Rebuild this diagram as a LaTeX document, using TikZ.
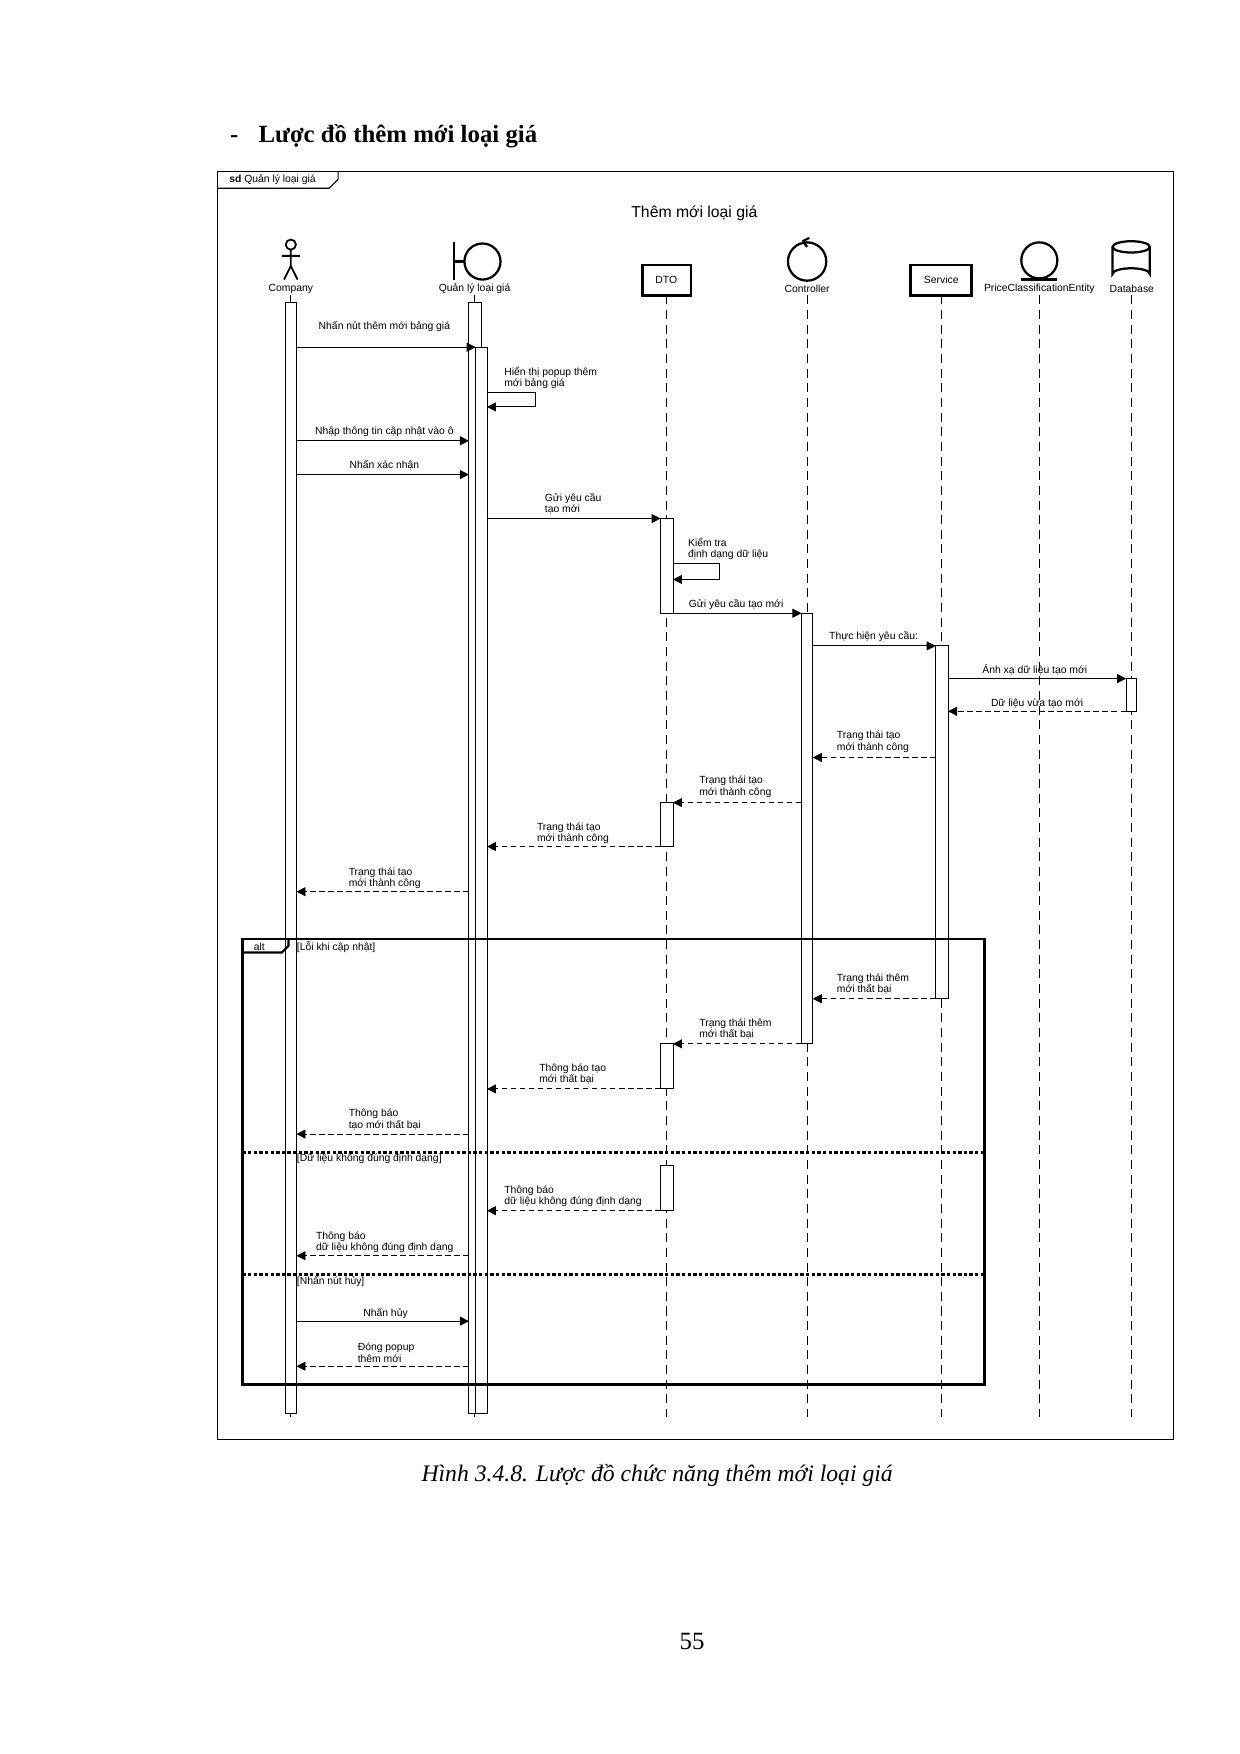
\documentclass[tikz,border=0pt]{standalone}
\usepackage{fontspec}
\setmainfont{Liberation Serif}
\newfontfamily\lsans{Liberation Sans}
\usetikzlibrary{arrows.meta}
\begin{document}
\begin{tikzpicture}[x=0.5pt,y=-0.5pt,
  lab/.style={font=\lsans\fontsize{4.6}{5}\selectfont,align=left,inner sep=0pt},
  msg/.style={-{Triangle[length=4pt,width=4pt]},line width=0.4pt},
  ret/.style={msg,dashed,dash pattern=on 2.5pt off 1.5pt},
  life/.style={dashed,dash pattern=on 4pt off 2.5pt,line width=0.4pt},
  act/.style={draw,fill=white,line width=0.4pt}]
\useasboundingbox (0,0) rectangle (1100,1556);
% heading
\node[anchor=west,font=\bfseries\fontsize{11}{13}\selectfont] (hd) at (197,121) {-\hspace{9pt}Lược đồ thêm mới loại giá};
% frame
\draw[line width=0.5pt] (193,152) rectangle (1041,1277);
\draw[line width=0.5pt] (193,167) -- (292,167) -- (300,159) -- (300,152);
\node[lab,anchor=west] (sd) at (203,159.5) {\textbf{sd} Quản lý loại giá};
\node[font=\lsans\fontsize{7}{8}\selectfont] (title) at (616,189) {Thêm mới loại giá};
% lifelines
\foreach \x in {591,716,835,922,1004} \draw[life] (\x,262) -- (\x,1257);
\draw[life] (258,262) -- (258,1257);
\draw[life] (421,262) -- (421,1257);
% actor
\draw[line width=0.8pt] (258,217) circle (4.5);
\draw[line width=0.8pt] (258,221.5) -- (258,236) (250,227) -- (266,227) (258,236) -- (252,248) (258,236) -- (264,248);
\node[lab] (cmp) at (258,256) {Company};
% boundary
\draw[line width=1pt] (403,215) -- (403,248) (403,232) -- (412,232);
\draw[line width=1pt] (428,232) circle (16);
\node[lab] (qly) at (421,256) {Quản lý loại giá};
% DTO
\draw[line width=1.2pt] (570,235) rectangle (613,262);
\node[lab] (dto) at (591,248.5) {DTO};
% controller
\draw[line width=1pt] (716,232) circle (17);
\draw[line width=1pt] (712,214) -- (718,211) (712,214) -- (716,219);
\node[lab] (ctl) at (716,256) {Controller};
% service
\draw[line width=1.2pt] (808,235) rectangle (862,262);
\node[lab] (svc) at (835,248.5) {Service};
% entity
\draw[line width=1pt] (922,231) circle (16);
\draw[line width=1pt] (906,248) -- (938,248);
\node[lab] (ent) at (922,256) {PriceClassificationEntity};
% database
\draw[line width=1pt] (987,219) -- (987,243) arc[start angle=180,end angle=360,x radius=16.5,y radius=5] -- (1020,219);
\draw[line width=1pt] (1003.5,219) ellipse[x radius=16.5,y radius=5];
\node[lab] (db) at (1004,256) {Database};
% activations
\draw[act] (253,268) rectangle (263,1254);
\draw[act] (416,268) rectangle (427,1254);
\draw[act] (422,308) rectangle (432,1254);
\draw[act] (586,460) rectangle (597,544);
\draw[act] (586,712) rectangle (597,751);
\draw[act] (586,926) rectangle (597,966);
\draw[act] (586,1034) rectangle (597,1074);
\draw[act] (711,544) rectangle (721,926);
\draw[act] (830,573) rectangle (841,886);
\draw[act] (999,602) rectangle (1008,631);
% messages
\draw[msg] (263,308) -- (422,308);
\node[lab] (m1) at (341,290) {Nhấn nút thêm mới bảng giá};
\draw[msg] (432,348) -- (475,348) -- (475,361) -- (432,361);
\node[lab,anchor=west] (m2) at (447,335) {Hiển thị popup thêm\\mới bảng giá};
\draw[msg] (263,391) -- (416,391);
\node[lab] (m3) at (341,383) {Nhập thông tin cập nhật vào ô};
\draw[msg] (263,421) -- (416,421);
\node[lab] (m4) at (341,413) {Nhấn xác nhận};
\draw[msg] (432,460) -- (586,460);
\node[lab,anchor=west] (m5) at (483,447) {Gửi yêu cầu\\tạo mới};
\draw[msg] (597,500) -- (638,500) -- (638,514) -- (597,514);
\node[lab,anchor=west] (m6) at (610,487) {Kiểm tra\\định dạng dữ liệu};
\draw[msg] (597,544) -- (711,544);
\node[lab] (m7) at (653,536) {Gửi yêu cầu tạo mới};
\draw[msg] (721,573) -- (830,573);
\node[lab] (m8) at (775,565) {Thực hiện yêu cầu:};
\draw[msg] (841,602) -- (999,602);
\node[lab] (m9) at (918,594) {Ánh xạ dữ liệu tạo mới};
\draw[ret] (999,631) -- (841,631);
\node[lab] (m10) at (920,624) {Dữ liệu vừa tạo mới};
\draw[ret] (830,672) -- (721,672);
\node[lab,anchor=west] (m11) at (742,658) {Trạng thái tạo\\mới thành công};
\draw[ret] (711,712) -- (597,712);
\node[lab,anchor=west] (m12) at (620,698) {Trạng thái tạo\\mới thành công};
\draw[ret] (586,751) -- (432,751);
\node[lab,anchor=west] (m13) at (476,739) {Trạng thái tạo\\mới thành công};
\draw[ret] (416,791) -- (263,791);
\node[lab,anchor=west] (m14) at (309,779) {Trạng thái tạo\\mới thành công};
% alt
\draw[line width=1.3pt] (215,833) rectangle (873,1228);
\draw[line width=1pt] (215,845) -- (250,845) -- (256,839) -- (256,833);
\node[lab] (alt) at (230,839.5) {alt};
\node[lab,anchor=west] (g1) at (263,840) {[Lỗi khi cập nhật]};
\draw[ret] (830,886) -- (721,886);
\node[lab,anchor=west] (m15) at (742,873) {Trạng thái thêm\\mới thất bại};
\draw[ret] (711,926) -- (597,926);
\node[lab,anchor=west] (m16) at (620,913) {Trạng thái thêm\\mới thất bại};
\draw[ret] (586,966) -- (432,966);
\node[lab,anchor=west] (m17) at (478,953) {Thông báo tạo\\mới thất bại};
\draw[ret] (416,1006) -- (263,1006);
\node[lab,anchor=west] (m18) at (309,993) {Thông báo\\tạo mới thất bại};
\draw[line width=1.3pt,dash pattern=on 1.5pt off 1pt] (215,1022) -- (873,1022);
\node[lab,anchor=west] (g2) at (263,1028) {[Dữ liệu không đúng định dạng]};
\draw[ret] (586,1074) -- (432,1074);
\node[lab,anchor=west] (m19) at (447,1061) {Thông báo\\dữ liệu không đúng định dạng};
\draw[ret] (416,1114) -- (263,1114);
\node[lab,anchor=west] (m20) at (280,1102) {Thông báo\\dữ liệu không đúng định dạng};
\draw[line width=1.3pt,dash pattern=on 1.5pt off 1pt] (215,1131) -- (873,1131);
\node[lab,anchor=west] (g3) at (263,1137) {[Nhấn nút hủy]};
\draw[msg] (263,1172) -- (416,1172);
\node[lab] (m21) at (342,1165) {Nhấn hủy};
\draw[ret] (416,1212) -- (263,1212);
\node[lab,anchor=west] (m22) at (317,1200) {Đóng popup\\thêm mới};
% caption
\node[font=\itshape\fontsize{10.5}{12}\selectfont] (cap) at (583,1309) {Hình 3.4.8. Lược đồ chức năng thêm mới loại giá};
\node[font=\fontsize{11}{13}\selectfont] (pg) at (614,1456) {55};
\end{tikzpicture}
\end{document}
